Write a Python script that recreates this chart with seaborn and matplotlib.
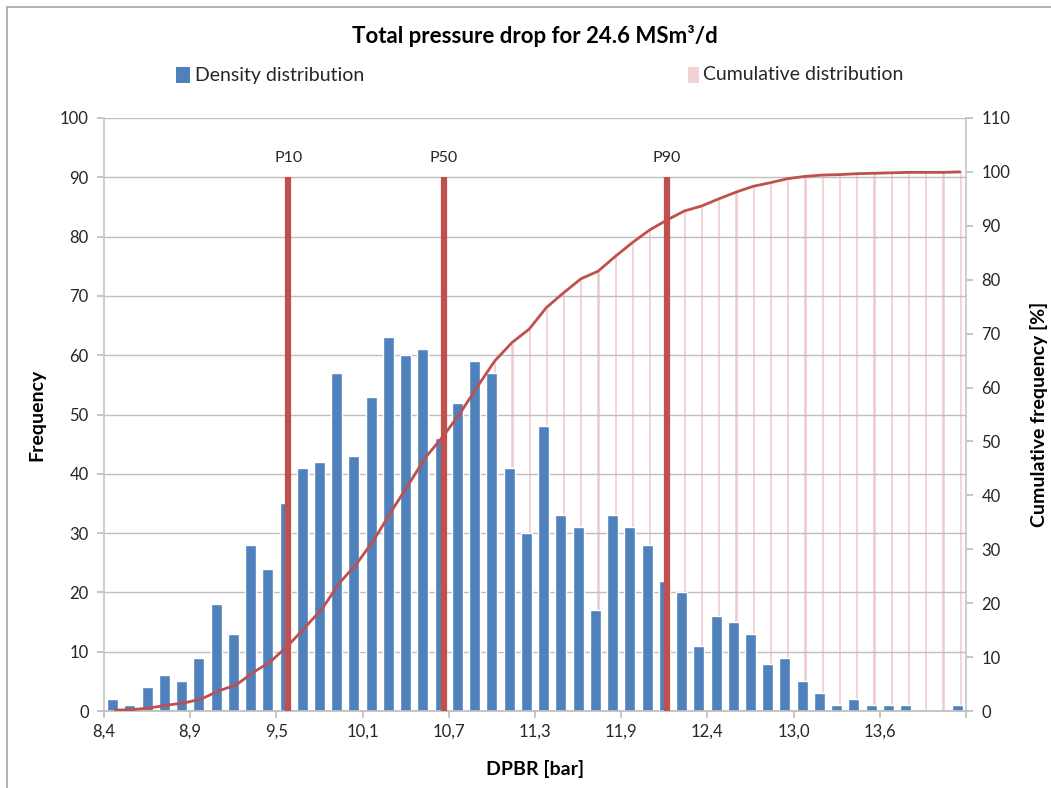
import numpy as np
import pandas as pd
import matplotlib
matplotlib.use("Agg")
import matplotlib.pyplot as plt
import seaborn as sns
from matplotlib.patches import Rectangle
from matplotlib.lines import Line2D

# ---------------- data ----------------
counts = [2, 1, 4, 6, 5, 9, 18, 13, 28, 24,
          35, 41, 42, 57, 43, 53, 63, 60, 61, 46,
          52, 59, 57, 41, 30, 48, 33, 31, 17, 33,
          31, 28, 22, 20, 11, 16, 15, 13, 8, 9,
          5, 3, 1, 2, 1, 1, 1, 0, 0, 1]
tick_labels = ["8,4", "8,9", "9,5", "10,1", "10,7", "11,3", "11,9", "12,4", "13,0", "13,6", ""]
p_labels = ["P10", "P50", "P90"]
p_positions = [10.19, 19.20, 32.16]   # in bin units
p_height = 90

title = "Total pressure drop for 24.6 MSm³/d"

# ---------------- derived ----------------
n = len(counts)
idx = np.arange(n)
cum = np.cumsum(counts) / np.sum(counts) * 100.0
df = pd.DataFrame({"bin": idx, "count": counts})
dfc = pd.DataFrame({"bin": idx + 0.16, "cum": cum})

BLUE = "#4F81BD"
RED = "#C0504D"
PINK = "#F0CBCB"
GRID = "#BEBEBE"
SPINE = "#C8C8C8"
TXT = "#262626"

sns.set_theme(style="white")
plt.rcParams["font.family"] = ["Lato", "DejaVu Sans"]

W, H = 1051, 788
fig = plt.figure(figsize=(W / 100, H / 100), dpi=100)
rect = [104 / W, 1 - 711 / H, (966 - 104) / W, (711 - 118) / H]
ax = fig.add_axes(rect)
ax2 = ax.twinx()      # right axis: pink cumulative bars (behind)
ax3 = ax.twinx()      # right-axis scale: cumulative line + percentile lines (front)
ax2.set_zorder(1)
ax.set_zorder(2)
ax3.set_zorder(3)
ax.patch.set_visible(False)
ax3.patch.set_visible(False)
ax2.patch.set_visible(True)
ax2.patch.set_facecolor("white")

# pink cumulative bars
sns.barplot(data=dfc, x="bin", y="cum", ax=ax2, native_scale=True, color=PINK,
            saturation=1, width=0.19, zorder=2)

# blue density bars
sns.barplot(data=df, x="bin", y="count", ax=ax, native_scale=True, color=BLUE,
            saturation=1, width=0.64, zorder=2)

# cumulative line
sns.lineplot(data=dfc, x="bin", y="cum", ax=ax3, color=RED, linewidth=2.0, zorder=4)

# percentile lines (heights given on left axis, drawn in left-axis data coords)
ax3.vlines(p_positions, 0, p_height, color=RED, linewidth=4.5, zorder=5,
           transform=ax.transData)
for lab, pos in zip(p_labels, p_positions):
    ax3.text(pos, p_height + 2.0, lab, ha="center", va="bottom",
             fontsize=11.5, color=TXT, transform=ax.transData)

# axes limits and ticks
ax.set_xlim(-0.5, n - 0.5)
ax.set_ylim(0, 100)
ax2.set_ylim(0, 110)
ax3.set_ylim(0, 110)
ax.set_yticks(np.arange(0, 101, 10))
ax2.set_yticks(np.arange(0, 111, 10))
ax3.set_yticks([])
ax3.set_ylabel("")
ax.set_xticks(np.arange(-0.5, n, 5))
ax.set_xticklabels(tick_labels)
ax2.yaxis.grid(False)
ax2.xaxis.grid(False)
ax3.xaxis.grid(False)
ax.yaxis.grid(True, color=GRID, linewidth=1.0)
ax.xaxis.grid(False)
ax.set_axisbelow(True)

for a in (ax, ax2, ax3):
    for s in a.spines.values():
        s.set_visible(False)
ax.spines["left"].set_visible(True)
ax.spines["left"].set_color(SPINE)
ax.spines["bottom"].set_visible(True)
ax.spines["bottom"].set_color(GRID)
ax2.spines["right"].set_visible(True)
ax2.spines["right"].set_color(SPINE)

ax.tick_params(axis="y", length=5, color=GRID, labelsize=12, labelcolor=TXT, pad=6, left=True)
ax.tick_params(axis="x", length=5, color=GRID, labelsize=12, labelcolor=TXT, pad=4,
               bottom=True, labelbottom=True)
ax2.tick_params(axis="y", length=5, color=GRID, labelsize=12, labelcolor=TXT, pad=6, right=True)
ax2.tick_params(axis="x", bottom=False, labelbottom=False)
ax3.tick_params(axis="x", bottom=False, labelbottom=False)

ax.set_xlabel("DPBR [bar]", fontsize=14, fontweight="bold", color="black")
ax.set_ylabel("Frequency", fontsize=14, fontweight="bold", color="black")
ax2.set_ylabel("Cumulative frequency [%]", fontsize=14, fontweight="bold", color="black")
ax2.set_xlabel("")
ax3.set_xlabel("")
ax.xaxis.set_label_coords(0.5, (711 - 760) / 593)
ax.yaxis.set_label_coords((45 - 104) / 862, 0.5)
ax2.yaxis.set_label_coords((1030 - 104) / 862, 0.5)

# title
fig.text(535 / W, 1 - 36 / H, title, ha="center", va="center", fontsize=16,
         fontweight="bold", color="black")

# legend (manual)
fig.add_artist(Rectangle((176 / W, 1 - 83 / H), 14 / W, 16 / H, transform=fig.transFigure,
                         facecolor=BLUE, edgecolor="none"))
fig.text(195 / W, 1 - 75 / H, "Density distribution", ha="left", va="center",
         fontsize=14, color=TXT)
fig.add_artist(Rectangle((688 / W, 1 - 83 / H), 11 / W, 16 / H, transform=fig.transFigure,
                         facecolor="#F2D3D3", edgecolor="none"))
fig.text(703 / W, 1 - 75 / H, "Cumulative distribution", ha="left", va="center",
         fontsize=14, color=TXT)

# chart-area border (top & left visible in reference)
fig.add_artist(Line2D([7 / W, 1], [1 - 7 / H, 1 - 7 / H], transform=fig.transFigure,
                      color="#A6A6A6", linewidth=1.2))
fig.add_artist(Line2D([7 / W, 7 / W], [0, 1 - 7 / H], transform=fig.transFigure,
                      color="#A6A6A6", linewidth=1.2))

fig.savefig("out.png", dpi=100)
